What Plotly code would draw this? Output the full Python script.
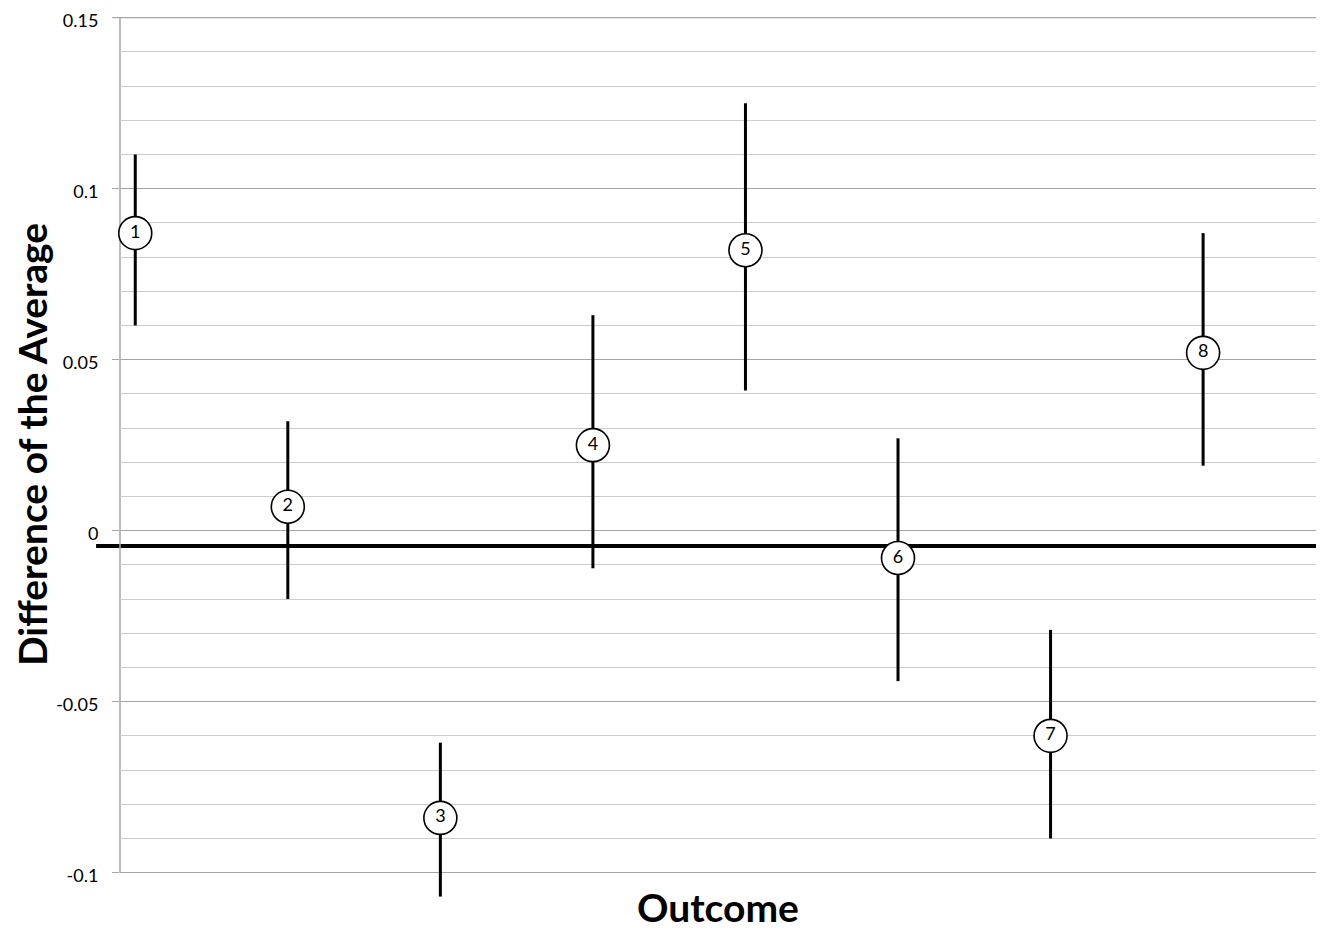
import plotly.graph_objects as go

outcomes = [1, 2, 3, 4, 5, 6, 7, 8]
labels = ["1", "2", "3", "4", "5", "6", "7", "8"]
center = [0.087, 0.007, -0.084, 0.025, 0.082, -0.008, -0.060, 0.052]
upper = [0.110, 0.032, -0.062, 0.063, 0.125, 0.027, -0.029, 0.087]
lower = [0.060, -0.020, -0.107, -0.011, 0.041, -0.044, -0.090, 0.019]
ref_line = -0.0045
y_tick_vals = [-0.1, -0.05, 0, 0.05, 0.1, 0.15]
y_tick_text = ["-0.1", "-0.05", "0", "0.05", "0.1", "0.15"]

err_plus = [u - c for u, c in zip(upper, center)]
err_minus = [c - l for c, l in zip(center, lower)]

FONT = "Lato, Open Sans, sans-serif"
GRID_MAJOR = "#a6a6a6"
GRID_MINOR = "#cccccc"

fig = go.Figure()
fig.add_trace(go.Scatter(
    x=outcomes, y=center, mode="markers+text", text=labels,
    textposition="middle center",
    textfont=dict(family=FONT, size=18, color="black"),
    marker=dict(size=33, color="white", line=dict(color="black", width=1.6)),
    error_y=dict(type="data", symmetric=False, array=err_plus, arrayminus=err_minus,
                 color="black", thickness=3, width=0),
    showlegend=False, cliponaxis=False,
))

# horizontal reference line
fig.add_shape(type="line", xref="paper", yref="y", x0=-0.02, x1=1, y0=ref_line, y1=ref_line,
              line=dict(color="black", width=4), layer="between")
# y axis line (only over the labelled range)
fig.add_shape(type="line", xref="paper", yref="y", x0=0, x1=0, y0=y_tick_vals[0], y1=y_tick_vals[-1],
              line=dict(color=GRID_MAJOR, width=1.5), layer="between")
# top gridline + tick (at plot edge)
fig.add_shape(type="line", xref="paper", yref="y", x0=-0.0059, x1=1, y0=y_tick_vals[-1], y1=y_tick_vals[-1],
              line=dict(color=GRID_MAJOR, width=1.2), layer="between")

fig.add_annotation(text="<b>Outcome</b>", xref="paper", yref="paper", x=0.5, y=-0.008,
                   xanchor="center", yanchor="middle", showarrow=False,
                   font=dict(family=FONT, size=39, color="black"))
fig.add_annotation(text="<b>Difference of the Average</b>", xref="paper", yref="paper",
                   x=-0.073, y=0.516, xanchor="center", yanchor="middle", textangle=-90,
                   showarrow=False, font=dict(family=FONT, size=39, color="black"))

fig.update_layout(
    width=1308, height=921,
    margin=dict(l=112, r=0, t=9, b=29),
    paper_bgcolor="white", plot_bgcolor="white",
    font=dict(family=FONT, color="black"),
    xaxis=dict(range=[0.9, 8.74], showticklabels=False, showgrid=False, zeroline=False,
               showline=False, ticks="", automargin=False),
    yaxis=dict(range=[-0.108, 0.1502], showgrid=True, gridcolor=GRID_MAJOR,
               gridwidth=1.2, zeroline=False, showline=False,
               ticks="outside", ticklen=7, tickcolor=GRID_MAJOR, tickwidth=1.2,
               tickvals=y_tick_vals, ticktext=y_tick_text,
               tickfont=dict(size=18), ticklabelstandoff=10, ticklabelshift=3,
               automargin=False, ticklabeloverflow="allow",
               minor=dict(dtick=0.01, tick0=0, showgrid=True, gridcolor=GRID_MINOR, gridwidth=1.2, ticks="")),
)

fig.write_html("out.html")
